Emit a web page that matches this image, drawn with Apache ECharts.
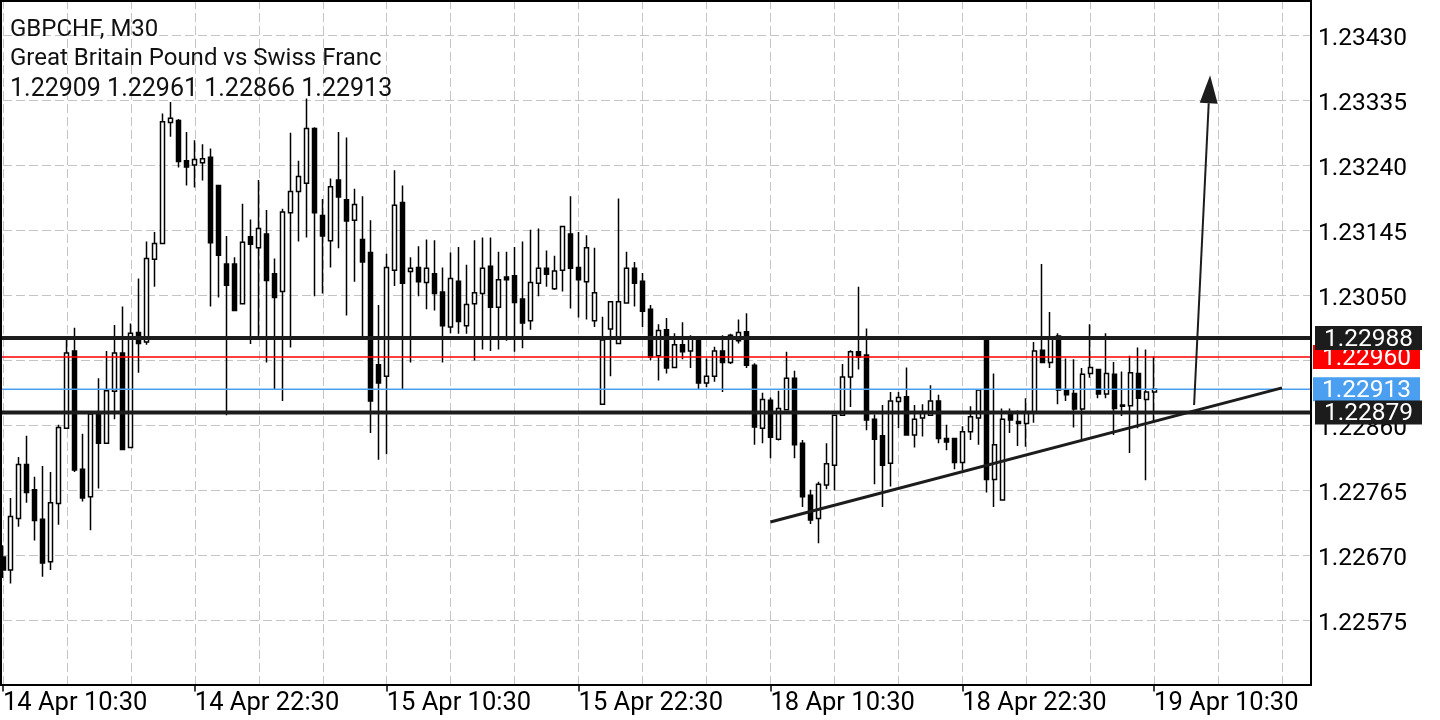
<!DOCTYPE html>
<html>
<head>
<meta charset="utf-8">
<script src="https://cdn.jsdelivr.net/npm/echarts@6/dist/echarts.min.js"></script>
<style>
html,body{margin:0;padding:0;background:#fff;}
#chart{width:1440px;height:720px;}
</style>
</head>
<body>
<div id="chart"></div>
<script>
// ---------- data ----------
const symbolName = 'GBPCHF';
const timeframe = 'M30';
const description = 'Great Britain Pound vs Swiss Franc';

const opens = [
1.22668,1.22649,1.22724,1.22803,1.22766,1.22723,1.22661,1.22746,1.22856,1.22969,
1.22796,1.22756,1.22878,1.22834,1.22910,1.22966,1.22828,1.22996,1.22982,1.23103,
1.23126,1.23303,1.23306,1.23247,1.23241,1.23244,1.23252,1.23211,1.23096,1.23096,
1.23038,1.23136,1.23120,1.23140,1.23082,1.23056,1.23171,1.23202,1.23214,1.23294,
1.23167,1.23130,1.23219,1.23190,1.23160,1.23132,1.23113,1.22949,1.22932,1.23087,
1.23186,1.23085,1.23091,1.23069,1.23082,1.23055,1.23004,1.23071,1.23006,1.23038,
1.23053,1.23093,1.23033,1.23077,1.23079,1.23045,1.23013,1.23068,1.23090,1.23060,
1.23087,1.23140,1.23091,1.23070,1.23013,1.22891,1.23001,1.22980,1.23039,1.23090,
1.23071,1.23030,1.22962,1.23000,1.22945,1.22978,1.22969,1.22985,1.22922,1.22932,
1.22969,1.22952,1.22984,1.22997,1.22948,1.22856,1.22897,1.22840,1.22883,1.22929,
1.22834,1.22758,1.22724,1.22773,1.22802,1.22875,1.22931,1.22968,1.22963,1.22869,
1.22845,1.22805,1.22895,1.22902,1.22846,1.22871,1.22875,1.22896,1.22841,1.22841,
1.22806,1.22851,1.22871,1.22987,1.22781,1.22751,1.22878,1.22866,1.22863,1.22879,
1.22970,1.22952,1.22991,1.22911,1.22907,1.22884,1.22936,1.22942,1.22906,1.22935,
1.22890,1.22889,1.22936,1.22898,1.22909];
const highs = [
1.22685,1.22754,1.22814,1.22845,1.22785,1.22801,1.22792,1.22861,1.22988,1.23003,
1.22848,1.22878,1.22929,1.22969,1.23007,1.23034,1.23009,1.23075,1.23129,1.23143,
1.23316,1.23333,1.23308,1.23289,1.23277,1.23271,1.23265,1.23212,1.23137,1.23106,
1.23184,1.23161,1.23219,1.23175,1.23104,1.23177,1.23288,1.23247,1.23338,1.23296,
1.23191,1.23221,1.23289,1.23281,1.23206,1.23195,1.23160,1.23036,1.23111,1.23233,
1.23211,1.23106,1.23122,1.23132,1.23131,1.23091,1.23113,1.23121,1.23095,1.23131,
1.23135,1.23135,1.23114,1.23114,1.23121,1.23129,1.23146,1.23148,1.23116,1.23108,
1.23152,1.23195,1.23143,1.23138,1.23120,1.23019,1.23042,1.23192,1.23114,1.23099,
1.23083,1.23036,1.23008,1.23017,1.22995,1.23011,1.22992,1.22986,1.22958,1.22975,
1.22992,1.22994,1.23015,1.23024,1.22951,1.22908,1.22901,1.22911,1.22968,1.22940,
1.22839,1.22766,1.22778,1.22834,1.22876,1.22950,1.22970,1.23063,1.23002,1.22876,
1.22890,1.22909,1.22909,1.22945,1.22890,1.22891,1.22919,1.22905,1.22861,1.22842,
1.22859,1.22888,1.22913,1.22988,1.22936,1.22885,1.22885,1.22882,1.22900,1.22982,
1.23096,1.23026,1.22995,1.22958,1.22957,1.22944,1.23008,1.22943,1.22995,1.22953,
1.22939,1.22962,1.22974,1.22971,1.22961];
const lows = [
1.22637,1.22629,1.22712,1.22747,1.22692,1.22639,1.22649,1.22715,1.22855,1.22792,
1.22749,1.22707,1.22768,1.22833,1.22869,1.22824,1.22827,1.22937,1.22978,1.23063,
1.23125,1.23282,1.23237,1.23211,1.23208,1.23218,1.23034,1.23047,1.22875,1.23027,
1.23037,1.22979,1.22987,1.22952,1.22912,1.22896,1.22974,1.23129,1.23135,1.23049,
1.23053,1.23091,1.23119,1.23021,1.23070,1.22990,1.22849,1.22810,1.22818,1.23064,
1.22913,1.22952,1.23049,1.23030,1.23028,1.22952,1.22995,1.22994,1.22994,1.22955,
1.22971,1.22969,1.22971,1.22984,1.22968,1.22973,1.23000,1.23049,1.23063,1.23058,
1.23056,1.23031,1.23018,1.23015,1.23004,1.22890,1.22932,1.22979,1.23038,1.23034,
1.23004,1.22955,1.22926,1.22936,1.22944,1.22957,1.22944,1.22913,1.22916,1.22924,
1.22909,1.22950,1.22980,1.22944,1.22832,1.22834,1.22812,1.22838,1.22882,1.22812,
1.22741,1.22716,1.22688,1.22767,1.22765,1.22874,1.22887,1.22942,1.22853,1.22774,
1.22741,1.22771,1.22856,1.22845,1.22828,1.22844,1.22874,1.22834,1.22824,1.22796,
1.22795,1.22839,1.22832,1.22762,1.22741,1.22750,1.22849,1.22830,1.22829,1.22864,
1.22951,1.22944,1.22891,1.22896,1.22857,1.22840,1.22930,1.22900,1.22900,1.22846,
1.22874,1.22820,1.22856,1.22780,1.22866];
const closes = [
1.22649,1.22727,1.22803,1.22762,1.22721,1.22659,1.22747,1.22857,1.22966,1.22795,
1.22754,1.22877,1.22834,1.22911,1.22966,1.22825,1.22995,1.22980,1.23104,1.23126,
1.23304,1.23309,1.23246,1.23238,1.23249,1.23250,1.23127,1.23109,1.23065,1.23028,
1.23128,1.23125,1.23148,1.23072,1.23047,1.23172,1.23202,1.23224,1.23294,1.23171,
1.23137,1.23209,1.23194,1.23159,1.23183,1.23099,1.22896,1.22922,1.23091,1.23182,
1.23068,1.23090,1.23070,1.23090,1.23053,1.23006,1.23075,1.23012,1.23037,1.23054,
1.23090,1.23033,1.23073,1.23073,1.23040,1.23010,1.23069,1.23090,1.23081,1.23086,
1.23151,1.23090,1.23073,1.23120,1.23054,1.22985,1.23041,1.23041,1.23090,1.23068,
1.23027,1.22960,1.22999,1.22944,1.22978,1.22968,1.22986,1.22922,1.22932,1.22969,
1.22952,1.22992,1.22996,1.22948,1.22858,1.22898,1.22843,1.22885,1.22929,1.22832,
1.22756,1.22722,1.22774,1.22804,1.22875,1.22931,1.22968,1.22960,1.22868,1.22840,
1.22802,1.22896,1.22901,1.22846,1.22869,1.22878,1.22896,1.22841,1.22836,1.22806,
1.22851,1.22873,1.22912,1.22781,1.22832,1.22869,1.22868,1.22863,1.22879,1.22969,
1.22952,1.22989,1.22912,1.22905,1.22884,1.22935,1.22945,1.22906,1.22936,1.22885,
1.22888,1.22937,1.22900,1.22909,1.22913];

// horizontal levels (drawn in this order): bid, ask, support, resistance
const levelPrices = [1.22960, 1.22913, 1.22879, 1.22988];
// trend line and forecast arrow, as [bar index, price]
const trendLine = [[96, 1.22719], [160, 1.22915]];
const arrowLine = [[149, 1.22890], [151, 1.23372]];

const tickLabels = ['1.23430','1.23335','1.23240','1.23145','1.23050','1.22860','1.22765','1.22670','1.22575'];

// time categories (two trading sessions around the weekend)
const sessions = [[2022, 3, 14, 10, 30, 75], [2022, 3, 18, 0, 0, 90]];
const MONTHS = ['Jan','Feb','Mar','Apr','May','Jun','Jul','Aug','Sep','Oct','Nov','Dec'];
const categories = [];
sessions.forEach(s => {
  const t0 = Date.UTC(s[0], s[1], s[2], s[3], s[4]);
  for (let i = 0; i < s[5]; i++) {
    const d = new Date(t0 + i * 30 * 60000);
    const hh = String(d.getUTCHours()).padStart(2, '0');
    const mm = String(d.getUTCMinutes()).padStart(2, '0');
    categories.push(d.getUTCDate() + ' ' + MONTHS[d.getUTCMonth()] + ' ' + hh + ':' + mm);
  }
});

// ---------- chart ----------
const candleData = opens.map((o, i) => [o, closes[i], lows[i], highs[i]]);
const last = opens.length - 1;
const ohlcText = [opens[last], highs[last], lows[last], closes[last]].map(v => v.toFixed(5)).join(' ');

const FONT = 'Roboto';
const DARK = '#1c1c1c';
const levelStyles = [
  { line: '#ff0000', width: 1.5, bg: '#ff0000', boxX: 1313 },
  { line: '#4a9ff0', width: 1.5, bg: '#4a9ff0', boxX: 1313 },
  { line: DARK, width: 4, bg: DARK, boxX: 1315 },
  { line: DARK, width: 4, bg: DARK, boxX: 1315 }
];

const chart = echarts.init(document.getElementById('chart'), null, { renderer: 'canvas' });
chart.setOption({
  animation: false,
  backgroundColor: '#ffffff',
  grid: { left: 2, right: 126, top: 0, bottom: 34.5, containLabel: false },
  xAxis: {
    type: 'category',
    data: categories,
    boundaryGap: false,
    axisLine: { show: false },
    axisTick: { show: true, interval: 23, length: 6, lineStyle: { color: '#000', width: 1.5 } },
    axisLabel: { interval: 23, align: 'left', margin: 5, fontFamily: FONT, fontSize: 25.5, color: '#000' },
    splitLine: { show: true, interval: 7, lineStyle: { color: '#c4c4c4', width: 1, type: [9, 4] } }
  },
  yAxis: {
    type: 'value',
    position: 'right',
    min: 1.22480,
    max: 1.23482,
    interval: 0.00095,
    axisLine: { show: false },
    axisTick: { show: false },
    axisLabel: {
      margin: 4, fontFamily: FONT, fontSize: 24.5, color: '#000',
      verticalAlign: 'top', lineHeight: 6,
      formatter: v => { const s = v.toFixed(5); return tickLabels.indexOf(s) >= 0 ? s : ''; }
    },
    splitLine: { show: true, lineStyle: { color: '#c4c4c4', width: 1, type: [9, 4] } }
  },
  graphic: [
    { type: 'rect', z: 100, silent: true, shape: { x: 1, y: 1, width: 1310, height: 684 },
      style: { fill: 'none', stroke: '#000', lineWidth: 2 } },
    { type: 'text', z: 100, x: 10, y: 29.5, style: { text: symbolName + ', ' + timeframe, fontFamily: FONT, fontSize: 24, fill: '#111', verticalAlign: 'middle', align: 'left' } },
    { type: 'text', z: 100, x: 10, y: 59, style: { text: description, fontFamily: FONT, fontSize: 24, fill: '#111', verticalAlign: 'middle', align: 'left' } },
    { type: 'text', z: 100, x: 10, y: 89.5, style: { text: ohlcText, fontFamily: FONT, fontSize: 25, fill: '#111', verticalAlign: 'middle', align: 'left' } }
  ],
  series: [
    {
      type: 'candlestick',
      data: candleData,
      barWidth: 4.5,
      clip: false,
      itemStyle: { color: '#ffffff', color0: '#000000', borderColor: '#000000', borderColor0: '#000000', borderWidth: 1.5 }
    },
    {
      type: 'custom',
      coordinateSystem: 'cartesian2d',
      silent: true,
      clip: false,
      z: 5,
      data: [[0, levelPrices[0]]],
      renderItem: (params, api) => {
        const cs = params.coordSys;
        const children = [];
        // level lines
        levelPrices.forEach((p, i) => {
          const st = levelStyles[i];
          const y = api.coord([0, p])[1];
          children.push({ type: 'line', shape: { x1: 0, y1: y, x2: cs.x + cs.width - 3, y2: y }, style: { stroke: st.line, lineWidth: st.width } });
        });
        // trend line
        const t0 = api.coord(trendLine[0]), t1 = api.coord(trendLine[1]);
        children.push({ type: 'line', shape: { x1: t0[0], y1: t0[1], x2: t1[0], y2: t1[1] }, style: { stroke: DARK, lineWidth: 3 } });
        // forecast arrow
        const a0 = api.coord(arrowLine[0]), a1 = api.coord(arrowLine[1]);
        const dx = a1[0] - a0[0], dy = a1[1] - a0[1];
        const len = Math.hypot(dx, dy), ux = dx / len, uy = dy / len;
        const headL = 28, headW = 9;
        const bx = a1[0] - ux * headL, by = a1[1] - uy * headL;
        const px = -uy, py = ux;
        children.push({ type: 'line', shape: { x1: a0[0], y1: a0[1], x2: bx, y2: by }, style: { stroke: DARK, lineWidth: 2 } });
        children.push({ type: 'polygon', shape: { points: [[a1[0], a1[1]], [bx + px * headW, by + py * headW], [bx - px * headW, by - py * headW]] }, style: { fill: DARK } });
        // price boxes on the axis
        levelPrices.forEach((p, i) => {
          const st = levelStyles[i];
          const y = api.coord([0, p])[1];
          children.push({ type: 'rect', shape: { x: st.boxX, y: y - 12, width: 107, height: 24 }, style: { fill: st.bg } });
          children.push({ type: 'text', x: st.boxX + 53.5, y: y + 1.5, style: { text: p.toFixed(5), fontFamily: FONT, fontSize: 24.5, fill: '#fff', align: 'center', verticalAlign: 'middle' } });
        });
        return { type: 'group', children };
      }
    }
  ]
});
</script>
</body>
</html>
